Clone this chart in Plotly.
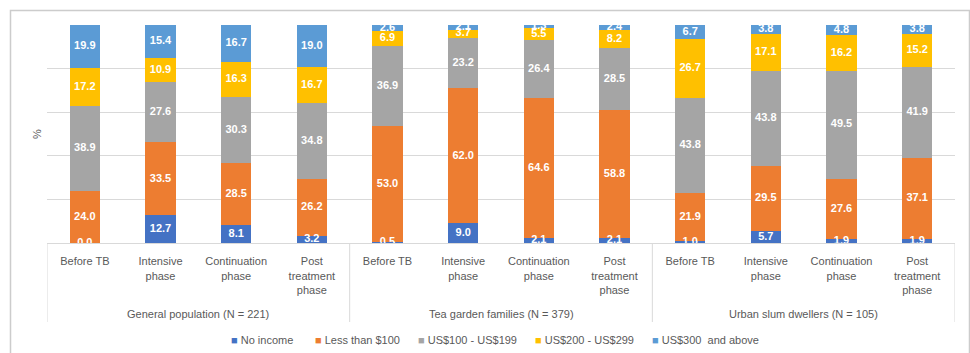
import plotly.graph_objects as go
import numpy as np

group_names = ["General population (N = 221)", "Tea garden families (N = 379)", "Urban slum dwellers (N = 105)"]
phase_names = ["Before TB", "Intensive<br>phase", "Continuation<br>phase", "Post<br>treatment<br>phase"]

series_names = ["No income", "Less than $100", "US$100 - US$199", "US$200 - US$299", "US$300  and above"]
no_income = [0.0, 12.7, 8.1, 3.2, 0.5, 9.0, 2.1, 2.1, 1.0, 5.7, 1.9, 1.9]
less_100 = [24.0, 33.5, 28.5, 26.2, 53.0, 62.0, 64.6, 58.8, 21.9, 29.5, 27.6, 37.1]
us_100_199 = [38.9, 27.6, 30.3, 34.8, 36.9, 23.2, 26.4, 28.5, 43.8, 43.8, 49.5, 41.9]
us_200_299 = [17.2, 10.9, 16.3, 16.7, 6.9, 3.7, 5.5, 8.2, 26.7, 17.1, 16.2, 15.2]
us_300_up = [19.9, 15.4, 16.7, 19.0, 2.6, 2.1, 1.3, 2.4, 6.7, 3.8, 4.8, 3.8]
colors = ["#4472C4", "#ED7D31", "#A5A5A5", "#FFC000", "#5B9BD5"]

all_series = [no_income, less_100, us_100_199, us_200_299, us_300_up]

cat_keys = [f"{g} | {p}" for g in group_names for p in phase_names]
cat_text = [p for g in group_names for p in phase_names]

W, H = 970, 353
L, R, T, B = 47, 15, 25, 110
PW, PH = W - L - R, H - T - B
TXT = "#595959"
GRID = "#d9d9d9"

def px_x(p):
    return (p - L) / PW

def px_y(p):
    return (H - B - p) / PH

fig = go.Figure()
for name, vals, col in zip(series_names, all_series, colors):
    fig.add_trace(go.Bar(
        x=cat_keys, y=vals, name=name,
        marker=dict(color=col, line=dict(width=0)),
        showlegend=False, hoverinfo="x+y+name",
    ))

# value labels centred in each stacked segment (clipped at the plot edges)
base = np.zeros(len(cat_keys))
for vals in all_series:
    v = np.array(vals)
    mids = base + v / 2
    fig.add_trace(go.Scatter(
        x=cat_keys, y=mids, mode="text",
        text=[f"{x:.1f}" for x in vals], textposition="middle center",
        textfont=dict(family="Liberation Sans", size=11, color="white", weight="bold"),
        cliponaxis=True, showlegend=False, hoverinfo="skip",
    ))
    base = base + v

# group labels under the phase labels
for gi, g in enumerate(group_names):
    fig.add_annotation(
        x=gi * 4 + 1.5, xref="x", y=px_y(314), yref="paper",
        text=g, showarrow=False, xanchor="center", yanchor="middle",
        font=dict(family="Liberation Sans", size=11, color=TXT),
    )

# vertical dividers between groups (and at the ends)
for xd in [-0.5, 3.5, 7.5, 11.5]:
    fig.add_shape(type="line", xref="x", yref="paper", x0=xd, x1=xd,
                  y0=0, y1=px_y(322), line=dict(color=GRID, width=1))

# legend drawn as annotations
legend_x = [229, 313, 416, 533, 650]
for name, col, lx in zip(series_names, colors, legend_x):
    fig.add_annotation(
        x=px_x(lx), y=px_y(340), xref="paper", yref="paper",
        xanchor="left", yanchor="middle", showarrow=False,
        text=f"<span style='color:{col}'>■</span> {name}",
        font=dict(family="Liberation Sans", size=11, color=TXT),
    )

# outer chart border
fig.add_shape(type="path", xref="paper", yref="paper",
              path=f"M {px_x(10.5)},{px_y(353)} L {px_x(10.5)},{px_y(10.5)} L {px_x(969.5)},{px_y(10.5)} L {px_x(969.5)},{px_y(353)}",
              line=dict(color="#cccccc", width=1.5), layer="above")

fig.update_layout(
    width=W, height=H,
    margin=dict(l=L, r=R, t=T, b=B, autoexpand=False),
    barmode="stack", bargap=0.6,
    plot_bgcolor="white", paper_bgcolor="white",
    font=dict(family="Liberation Sans", size=11, color=TXT),
    showlegend=False,
    xaxis=dict(
        type="category", categoryorder="array", categoryarray=cat_keys,
        tickmode="array", tickvals=cat_keys, ticktext=cat_text,
        range=[-0.5, 11.5],
        showline=True, linecolor=GRID, linewidth=1,
        ticks="", ticklabelstandoff=8,
        tickfont=dict(size=11, color=TXT), showgrid=False,
    ),
    yaxis=dict(
        range=[0, 100], dtick=20, showticklabels=False, gridcolor=GRID,
        gridwidth=1, zeroline=False,
        title=dict(text="%", font=dict(size=11, color=TXT), standoff=2),
    ),
)

fig.write_html("out.html")
